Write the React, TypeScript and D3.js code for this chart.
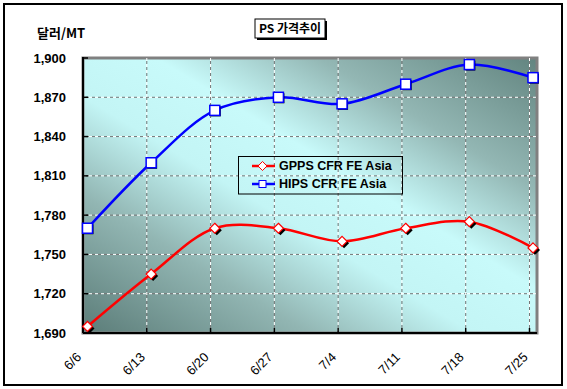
import * as d3 from "d3";

const dates = ["6/6", "6/13", "6/20", "6/27", "7/4", "7/11", "7/18", "7/25"];
const gpps = [1695, 1735, 1770, 1770, 1760, 1770, 1775, 1755];
const hips = [1770, 1820, 1860, 1870, 1865, 1880, 1895, 1885];
const yTicks = [1690, 1720, 1750, 1780, 1810, 1840, 1870, 1900];

const width = 567;
const height = 389;
const plot = { left: 83, right: 537, top: 58, bottom: 333 };

const fmt = d3.format(",");

export default function App() {
  const x = d3.scalePoint<string>().domain(dates).range([87.5, 533]);
  const grid = d3.scalePoint<string>().domain(dates).range([plot.left, 529.5]);
  const y = d3.scaleLinear().domain([1690, 1900]).range([plot.bottom, plot.top]);

  const line = d3
    .line<number>()
    .x((_, i) => x(dates[i])!)
    .y((d) => y(d))
    .curve(d3.curveCatmullRom.alpha(0.5));

  const font = "'Liberation Sans', Arial, sans-serif";
  const kfont = "'Noto Sans CJK KR', 'Liberation Sans', sans-serif";

  return (
    <svg
      width={width}
      height={height}
      style={{ position: "absolute", left: 0, top: 0, background: "#fff" }}
    >
      <defs>
        <linearGradient id="bg" x1="0" y1="1" x2="1" y2="0">
          <stop offset="0" stopColor="#5b7c78" />
          <stop offset="0.25" stopColor="#92b6b3" />
          <stop offset="0.43" stopColor="#c3f5f5" />
          <stop offset="0.58" stopColor="#c8fafa" />
          <stop offset="0.76" stopColor="#93b7b4" />
          <stop offset="1" stopColor="#62847f" />
        </linearGradient>
      </defs>

      {/* outer frame */}
      <rect x={4} y={4} width={558} height={381} fill="#fff" stroke="#000" strokeWidth={2} />

      {/* title */}
      <rect x={257} y={21} width={70} height={19} fill="#000" />
      <rect x={255} y={19} width={70} height={19} fill="#fff" stroke="#000" strokeWidth={1} />
      <text x={290} y={33} textAnchor="middle" fontFamily={kfont} fontWeight="bold" fontSize={12}>
        PS 가격추이
      </text>

      {/* y unit */}
      <text x={37} y={38} fontFamily={kfont} fontWeight="bold" fontSize={13}>
        달러/MT
      </text>

      {/* plot area */}
      <rect
        x={plot.left}
        y={plot.top}
        width={plot.right - plot.left}
        height={plot.bottom - plot.top}
        fill="url(#bg)"
        stroke="#808080"
        strokeWidth={3}
      />

      {/* grid */}
      {yTicks.slice(1, -1).map((t) => (
        <g key={t}>
          <line x1={plot.left} x2={plot.right} y1={y(t)} y2={y(t)} stroke="#fff" strokeDasharray="3,3" />
          <line x1={plot.left} x2={plot.right} y1={y(t)} y2={y(t)} stroke="#777" strokeDasharray="3,3" strokeDashoffset={3} />
        </g>
      ))}
      {dates.slice(1).map((d) => (
        <g key={d}>
          <line x1={grid(d)} x2={grid(d)} y1={plot.top} y2={plot.bottom} stroke="#fff" strokeDasharray="3,3" />
          <line x1={grid(d)} x2={grid(d)} y1={plot.top} y2={plot.bottom} stroke="#777" strokeDasharray="3,3" strokeDashoffset={3} />
        </g>
      ))}

      {/* axes */}
      <line x1={plot.left} x2={plot.left} y1={plot.top - 1} y2={plot.bottom} stroke="#000" strokeWidth={2} />
      <line x1={plot.left} x2={plot.right} y1={plot.bottom} y2={plot.bottom} stroke="#000" strokeWidth={2} />
      {yTicks.map((t) => (
        <g key={t}>
          <line x1={plot.left} x2={plot.left + 5} y1={y(t)} y2={y(t)} stroke="#000" strokeWidth={1.5} />
          <text
            x={66}
            y={y(t)}
            dy="0.35em"
            textAnchor="end"
            fontFamily={font}
            fontWeight="bold"
            fontSize={13}
          >
            {fmt(t)}
          </text>
        </g>
      ))}
      {dates.map((d) => (
        <g key={d}>
          <line x1={grid(d)} x2={grid(d)} y1={plot.bottom - 5} y2={plot.bottom} stroke="#000" strokeWidth={1.5} />
          <text
            transform={`translate(${grid(d)! - 1},${358}) rotate(-45)`}
            textAnchor="end"
            fontFamily={font}
            fontSize={13}
          >
            {d}
          </text>
        </g>
      ))}

      {/* series lines */}
      <path d={line(gpps)!} fill="none" stroke="#ff0000" strokeWidth={2.5} />
      <path d={line(hips)!} fill="none" stroke="#0000ff" strokeWidth={2.5} />

      {/* markers */}
      {gpps.map((v, i) => {
        const cx = x(dates[i])!;
        const cy = y(v);
        const diamond = (ox: number, oy: number) =>
          `M${cx + ox},${cy + oy - 5}L${cx + ox + 5},${cy + oy}L${cx + ox},${cy + oy + 5}L${cx + ox - 5},${cy + oy}Z`;
        return (
          <g key={"g" + i}>
            <path d={diamond(2, 2)} fill="#000" />
            <path d={diamond(0, 0)} fill="#fff" stroke="#ff0000" strokeWidth={1.2} />
          </g>
        );
      })}
      {hips.map((v, i) => {
        const cx = x(dates[i])!;
        const cy = y(v);
        return (
          <g key={"h" + i}>
            <rect x={cx - 4} y={cy - 4} width={10} height={10} fill="#000" />
            <rect x={cx - 5} y={cy - 5} width={10} height={10} fill="#fff" stroke="#0000ff" strokeWidth={1.5} />
          </g>
        );
      })}

      {/* legend */}
      <g>
        <rect x={238.5} y={156.5} width={164} height={37.5} fill="none" stroke="#000" strokeWidth={1} />
        <line x1={252} x2={275} y1={166} y2={166} stroke="#ff0000" strokeWidth={2.5} />
        <path d="M262.5,161.5L267,166L262.5,170.5L258,166Z" fill="#fff" stroke="#ff0000" strokeWidth={1} />
        <text x={279} y={166} dy="0.35em" fontFamily={font} fontWeight="bold" fontSize={12.5}>
          GPPS CFR FE Asia
        </text>
        <line x1={252} x2={275} y1={184} y2={184} stroke="#0000ff" strokeWidth={2.5} />
        <rect x={259} y={180.5} width={7} height={7} fill="#fff" stroke="#0000ff" strokeWidth={1} />
        <text x={279} y={184} dy="0.35em" fontFamily={font} fontWeight="bold" fontSize={12.5}>
          HIPS CFR FE Asia
        </text>
      </g>
    </svg>
  );
}
